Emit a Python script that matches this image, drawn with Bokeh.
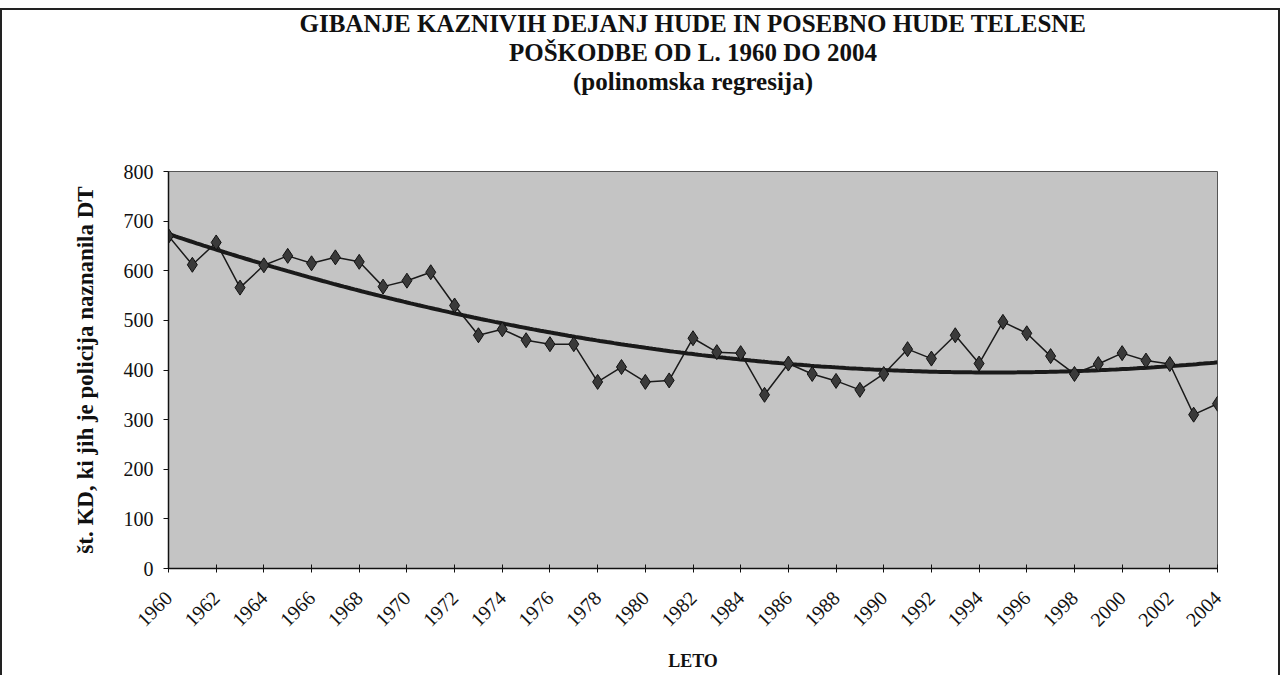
import numpy as np
from bokeh.plotting import figure
from bokeh.models import Title, FixedTicker, Range1d, ColumnDataSource
from bokeh.embed import file_html
from bokeh.resources import INLINE

years = list(range(1960, 2005))
counts = [670, 612, 657, 566, 611, 630, 615, 627, 618, 568, 580, 597,
          530, 470, 482, 460, 452, 452, 376, 406, 376, 379, 464, 436,
          434, 350, 413, 392, 378, 360, 392, 442, 423, 470, 413, 497,
          474, 428, 392, 412, 434, 419, 412, 310, 332]
x_ticks = years[::2]
y_ticks = list(range(0, 801, 100))
title_lines = ["GIBANJE KAZNIVIH DEJANJ HUDE IN POSEBNO HUDE TELESNE",
               "POŠKODBE OD L. 1960 DO 2004",
               "(polinomska regresija)"]
y_label = "št. KD, ki jih je policija naznanila DT"
x_label = "LETO"

# polynomial (order 2) regression trend of the series
xs = np.array(years, dtype=float) - 1960
coef = np.polyfit(xs, np.array(counts, dtype=float), 2)
fine = np.linspace(xs.min(), xs.max(), 300)
trend_x = fine + 1960
trend_y = np.polyval(coef, fine)

SERIF = "Liberation Serif"

p = figure(width=1280, height=675, output_backend="svg", toolbar_location=None,
           x_range=Range1d(1960, 2004), y_range=Range1d(0, 800),
           min_border_left=168, min_border_right=63, min_border_bottom=107,
           min_border_top=0,
           background_fill_color="#c4c4c4", border_fill_color=None)
# chart-area frame (left, top, right edges)
p.styles = {
    "background": ("linear-gradient(#222,#222) 0 8px / 100% 2px no-repeat, "
                   "linear-gradient(#222,#222) 0 8px / 2px 100% no-repeat, "
                   "linear-gradient(#222,#222) right 0 top 8px / 2px 100% no-repeat, white"),
}

# small spacer at the very top (above the first title line)
p.title.text = " "
p.title.text_font_size = "4px"
p.title.standoff = 0

# spacer between the title block and the plot area (closest to the frame)
p.add_layout(Title(text=" ", text_font_size="67px", standoff=0), "above")
for line in reversed(title_lines):
    t = Title(text=line, align="center", text_font=SERIF, text_font_size="25px",
              text_font_style="bold", text_color="#111111", standoff=0)
    p.add_layout(t, "above")

p.line(trend_x, trend_y, line_color="#1a1a1a", line_width=4)
src = ColumnDataSource(data=dict(x=years, y=counts))
p.line("x", "y", source=src, line_color="#1a1a1a", line_width=1.5)
p.scatter("x", "y", source=src, marker="diamond", size=15,
          fill_color="#3a3a3a", line_color="#111111", line_width=1)

p.grid.grid_line_color = None
p.outline_line_color = "#555555"

p.xaxis.ticker = FixedTicker(ticks=x_ticks)
p.yaxis.ticker = FixedTicker(ticks=y_ticks)
p.xaxis.major_label_orientation = np.pi / 4
for ax in (p.xaxis, p.yaxis):
    ax.major_label_text_font = SERIF
    ax.major_label_text_color = "#111111"
    ax.axis_line_color = "#111111"
    ax.axis_line_width = 1.5
    ax.major_tick_line_color = "#111111"
    ax.minor_tick_line_color = None
    ax.axis_label_text_font = SERIF
    ax.axis_label_text_font_style = "bold"
    ax.axis_label_text_color = "#111111"

p.yaxis.major_label_text_font_size = "20px"
p.xaxis.major_label_text_font_size = "20px"
p.yaxis.major_tick_in = 0
p.yaxis.major_tick_out = 5
p.yaxis.major_label_standoff = 10
p.xaxis.major_tick_in = 4
p.xaxis.major_tick_out = 4
p.xaxis.major_label_standoff = 22

p.yaxis.axis_label = y_label
p.yaxis.axis_label_text_font_size = "23px"
p.yaxis.axis_label_standoff = 23
p.xaxis.axis_label = x_label
p.xaxis.axis_label_text_font_size = "18px"
p.xaxis.axis_label_standoff = 15

open("out.html", "w").write(file_html(p, INLINE))
